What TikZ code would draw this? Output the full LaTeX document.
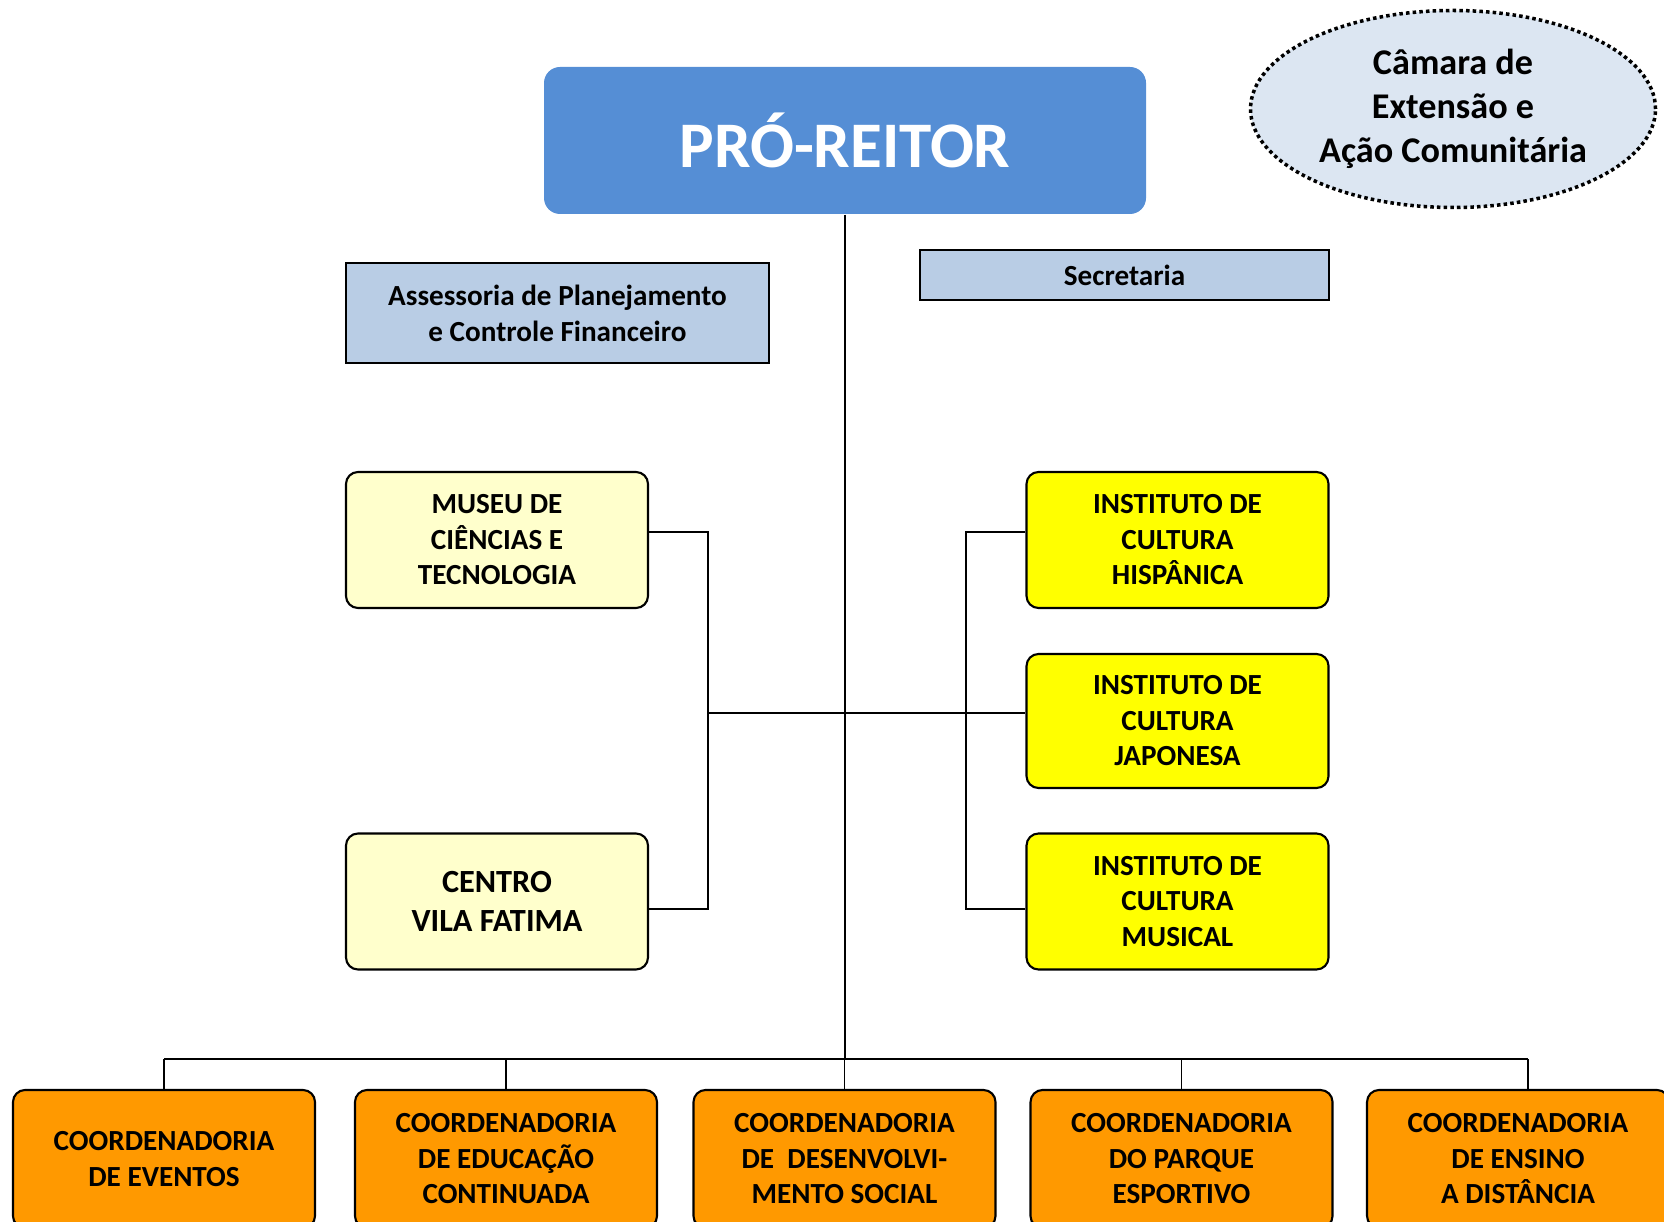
\documentclass[tikz,border=0pt]{standalone}
\usepackage{fontspec}
\setmainfont{Carlito}
\usepackage{tikz}
\usetikzlibrary{shapes.geometric}
\definecolor{problue}{RGB}{85,142,213}
\definecolor{camarafill}{RGB}{220,230,242}
\definecolor{assessfill}{RGB}{185,205,229}
\definecolor{paleyellow}{RGB}{255,255,204}
\definecolor{instyellow}{RGB}{255,255,0}
\definecolor{coordorange}{RGB}{255,153,0}

\begin{document}
\begin{tikzpicture}[y=-1cm, % y grows downwards, 1px = 0.01cm
  unitbox/.style={draw, line width=0.6pt, rounded corners=0.12cm, align=center, inner sep=0pt,
    minimum width=3.02cm, minimum height=1.36cm, font=\bfseries\fontsize{8.3}{10.1}\selectfont},
  staffbox/.style={draw, line width=0.8pt, fill=assessfill, align=center, inner sep=0pt,
    font=\bfseries\fontsize{8.3}{10.2}\selectfont},
  link/.style={line width=0.5pt}]
%picture frame
\useasboundingbox (0,0) rectangle (16.64,12.22);
\clip (0,0) rectangle (16.64,12.22);
%top
\node[fill=problue, rounded corners=0.16cm, minimum width=6.02cm, minimum height=1.47cm,
  text=white, font=\bfseries\fontsize{18.5}{22}\selectfont] (pro) at (8.45,1.405) {PRÓ-REITOR};
\node[ellipse, draw, fill=camarafill, line width=1pt, dash pattern=on 1pt off 0.9pt,
  minimum width=4.05cm, minimum height=1.97cm, inner sep=0pt, align=center,
  font=\bfseries\fontsize{10.3}{12.5}\selectfont] (camara) at (14.53,1.09)
  {Câmara de\\Extensão e\\Ação Comunitária};
%staff
\node[staffbox, minimum width=4.23cm, minimum height=1cm] (assess) at (5.575,3.13)
  {Assessoria de Planejamento\\e Controle Financeiro};
\node[staffbox, minimum width=4.09cm, minimum height=0.5cm] (secr) at (11.245,2.75) {Secretaria};
%left units
\node[unitbox, fill=paleyellow] (museu) at (4.97,5.40) {MUSEU DE\\CIÊNCIAS E\\TECNOLOGIA};
\node[unitbox, fill=paleyellow, font=\bfseries\fontsize{9.2}{10.9}\selectfont] (centro) at (4.97,9.015)
  {CENTRO\\VILA FATIMA};
%right units
\node[unitbox, fill=instyellow] (hisp) at (11.775,5.40) {INSTITUTO DE\\CULTURA\\HISPÂNICA};
\node[unitbox, fill=instyellow, minimum height=1.34cm] (jap) at (11.775,7.21) {INSTITUTO DE\\CULTURA\\JAPONESA};
\node[unitbox, fill=instyellow] (mus) at (11.775,9.015) {INSTITUTO DE\\CULTURA\\MUSICAL};
%coordenadorias
\node[unitbox, fill=coordorange, minimum height=1.38cm] (eventos) at (1.64,11.59) {COORDENADORIA\\DE EVENTOS};
\node[unitbox, fill=coordorange, minimum height=1.38cm] (educ) at (5.06,11.59) {COORDENADORIA\\DE EDUCAÇÃO\\CONTINUADA};
\node[unitbox, fill=coordorange, minimum height=1.38cm] (desenv) at (8.445,11.59) {COORDENADORIA\\DE\ \ DESENVOLVI-\\MENTO SOCIAL};
\node[unitbox, fill=coordorange, minimum height=1.38cm] (parque) at (11.815,11.59) {COORDENADORIA\\DO PARQUE\\ESPORTIVO};
\node[unitbox, fill=coordorange, minimum height=1.38cm] (ead) at (15.18,11.59) {COORDENADORIA\\DE ENSINO\\A DISTÂNCIA};
%junctions
\coordinate (bus) at (8.45,10.59);
\coordinate (lj) at (7.08,7.13);
\coordinate (rj) at (9.66,7.13);
%trunk
\draw[link] (pro.south) -- (pro.south |- bus);
%bottom bus
\draw[link] (eventos.north |- bus) -- ([xshift=0.1cm]ead.north |- bus);
\draw[link] (eventos.north |- bus) -- (eventos.north);
\draw[link] (educ.north |- bus) -- (educ.north);
\draw[link] (desenv.north |- bus) -- (desenv.north);
\draw[link] (parque.north |- bus) -- (parque.north);
\draw[link] ([xshift=0.1cm]ead.north |- bus) -- ([xshift=0.1cm]ead.north);
%left bracket
\draw[link] ([yshift=0.08cm]museu.east) -| (lj) |- ([yshift=-0.075cm]centro.east);
%right bracket
\draw[link] ([yshift=0.08cm]hisp.west) -| (rj) |- ([yshift=-0.075cm]mus.west);
%cross line
\draw[link] (lj) -- (lj -| jap.west);
\end{tikzpicture}
\end{document}
